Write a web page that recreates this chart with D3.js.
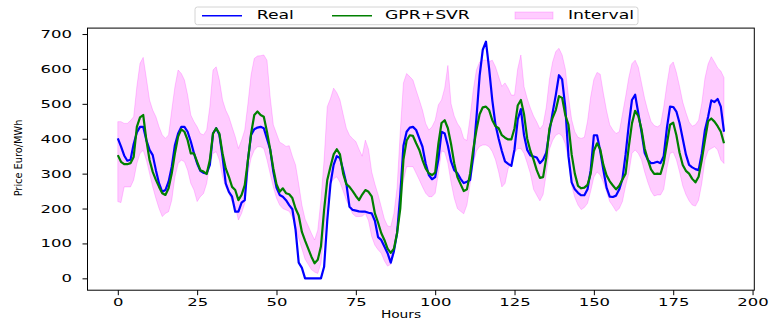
<!DOCTYPE html>
<html>
  <head>
    <meta charset="utf-8">
    <title>Real vs GPR+SVR</title>
    <script type="text/javascript" src="https://cdn.jsdelivr.net/npm/d3@7"></script>
    <style>
      body { margin: 0; background: #fff; }
      text { font-family: "DejaVu Sans", sans-serif; fill: #000; }
    </style>
  </head>
  <body>
    <script type="text/javascript">
     // data, one value per hour (0..191)
     let realPrice = [
       401, 378, 352, 337, 340, 385, 418, 434, 434, 396, 368, 353, 310, 272, 248, 253, 277, 320, 382, 415,
       434, 434, 420, 392, 358, 329, 308, 302, 301, 325, 415, 430, 411, 348, 272, 248, 234, 191, 191, 217,
       224, 339, 411, 427, 432, 434, 430, 400, 370, 305, 260, 239, 234, 224, 210, 198, 140, 45, 30, 0,
       0, 0, 0, 0, 0, 33, 167, 270, 325, 350, 345, 310, 272, 205, 196, 194, 192, 191, 191, 188,
       186, 165, 118, 110, 91, 72, 45, 78, 130, 240, 380, 420, 432, 434, 425, 401, 377, 329, 296, 284,
       290, 340, 420, 415, 380, 335, 310, 301, 285, 273, 277, 282, 350, 460, 580, 655, 678, 600, 510, 440,
       400, 365, 335, 328, 322, 370, 455, 485, 410, 368, 352, 349, 346, 330, 340, 360, 420, 475, 525, 582,
       570, 490, 350, 275, 255, 245, 238, 238, 255, 310, 410, 410, 365, 310, 260, 234, 233, 237, 255, 285,
       355, 440, 511, 526, 473, 420, 360, 340, 330, 331, 334, 330, 350, 430, 492, 491, 478, 445, 400, 355,
       325, 318, 313, 310, 358, 425, 463, 510, 505, 514, 492, 420
     ];
     let predPrice = [
       353, 334, 327, 327, 330, 348, 434, 461, 468, 396, 339, 305, 282, 262, 244, 239, 258, 301, 358, 406,
       427, 420, 396, 358, 358, 334, 310, 306, 299, 339, 415, 430, 415, 358, 315, 291, 262, 253, 224, 239,
       267, 339, 415, 468, 478, 468, 463, 420, 370, 315, 270, 248, 258, 244, 241, 230, 200, 180, 133, 108,
       85, 62, 43, 53, 91, 196, 282, 320, 355, 370, 355, 300, 270, 262, 250, 236, 224, 240, 253, 248,
       235, 186, 160, 130, 110, 85, 73, 85, 130, 200, 340, 395, 410, 408, 387, 368, 339, 315, 301, 296,
       303, 385, 445, 453, 430, 385, 330, 290, 270, 250, 255, 300, 370, 425, 470, 490, 492, 482, 453, 436,
       430, 410, 403, 398, 398, 430, 495, 511, 470, 400, 365, 340, 310, 288, 290, 345, 430, 460, 482, 522,
       517, 468, 440, 355, 300, 265, 258, 260, 268, 300, 365, 387, 370, 325, 295, 278, 266, 255, 265, 283,
       300, 377, 444, 480, 465, 428, 372, 340, 312, 299, 300, 299, 330, 385, 440, 446, 410, 360, 325, 308,
       300, 285, 275, 291, 339, 396, 450, 458, 449, 436, 420, 387
     ];
     let upperBound = [
       449, 449, 444, 444, 452, 463, 549, 616, 633, 573, 511, 482, 463, 434, 411, 401, 411, 482, 549, 597,
       587, 568, 525, 468, 449, 434, 415, 411, 425, 492, 597, 606, 568, 511, 482, 463, 434, 406, 372, 396,
       425, 500, 583, 630, 637, 638, 640, 625, 520, 440, 415, 390, 385, 378, 380, 350, 325, 270, 210, 170,
       150, 129, 110, 138, 224, 339, 492, 515, 545, 532, 511, 470, 430, 410, 400, 392, 370, 350, 396, 370,
       305, 270, 240, 205, 170, 150, 148, 186, 260, 420, 560, 587, 578, 568, 539, 511, 482, 444, 425, 434,
       453, 497, 511, 545, 610, 500, 465, 444, 430, 400, 395, 460, 540, 597, 620, 625, 625, 621, 625, 606,
       578, 550, 560, 545, 525, 525, 600, 640, 549, 515, 488, 465, 448, 428, 440, 490, 570, 620, 650, 659,
       640, 600, 520, 455, 420, 404, 401, 404, 450, 520, 570, 590, 585, 530, 480, 440, 425, 415, 420, 470,
       520, 575, 615, 625, 605, 560, 515, 480, 450, 438, 434, 440, 490, 555, 610, 620, 590, 550, 505, 475,
       448, 436, 440, 453, 501, 573, 614, 635, 620, 603, 594, 575
     ];
     let lowerBound = [
       220, 217, 262, 262, 262, 282, 329, 358, 367, 339, 301, 262, 229, 200, 177, 186, 191, 224, 291, 329,
       339, 334, 310, 272, 253, 220, 234, 243, 272, 329, 358, 363, 339, 291, 262, 243, 220, 205, 167, 186,
       215, 300, 345, 367, 377, 377, 372, 340, 300, 262, 230, 210, 200, 196, 192, 175, 148, 115, 85, 55,
       40, 25, 18, 14, 43, 129, 224, 270, 285, 291, 275, 250, 224, 205, 185, 177, 177, 178, 186, 165,
       120, 95, 82, 72, 50, 35, 40, 70, 140, 215, 280, 320, 320, 320, 301, 282, 262, 244, 234, 234,
       244, 300, 365, 362, 330, 275, 230, 200, 192, 185, 210, 270, 330, 365, 378, 382, 382, 377, 363, 340,
       305, 262, 272, 315, 330, 360, 372, 372, 358, 330, 300, 255, 238, 222, 240, 300, 370, 395, 410, 415,
       408, 385, 340, 265, 232, 210, 197, 203, 215, 250, 290, 305, 296, 275, 248, 220, 207, 192, 200, 220,
       265, 301, 358, 368, 358, 340, 305, 275, 250, 236, 239, 239, 255, 315, 358, 362, 340, 305, 265, 240,
       222, 210, 207, 224, 272, 339, 366, 372, 377, 368, 339, 329
     ];
     let hours = d3.range(realPrice.length);
     let xTicks = [0, 25, 50, 75, 100, 125, 150, 175, 200];
     let yTicks = [0, 100, 200, 300, 400, 500, 600, 700];

     // set the canvas
     let w = 784;
     let h = 328;
     let plot = {left: 87.5, right: 754.3, top: 28.1, bottom: 290.2};

     let svg = d3.select("body").append("svg")
		 .attr("width", w)
		 .attr("height", h)
		 .style("display", "block");

     // scales, with matplotlib's 5% margins
     let xScale = d3.scaleLinear()
		    .domain([-9.55, 200.55])
		    .range([plot.left, plot.right]);
     let yScale = d3.scaleLinear()
		    .domain([-34, 717])
		    .range([plot.bottom, plot.top]);

     // interval band
     let band = d3.area()
		  .x((d) => {return xScale(d);})
		  .y0((d) => {return yScale(lowerBound[d]);})
		  .y1((d) => {return yScale(upperBound[d]);});
     svg.append("path")
	.datum(hours)
	.attr("d", band)
	.attr("fill", "magenta")
	.attr("fill-opacity", 0.2)
	.attr("stroke", "magenta")
	.attr("stroke-opacity", 0.2)
	.attr("stroke-width", 1);

     // the two lines
     function seriesLine(values) {
       return d3.line()
		.x((d) => {return xScale(d);})
		.y((d) => {return yScale(values[d]);})(hours);
     }
     svg.append("path")
	.attr("d", seriesLine(realPrice))
	.attr("fill", "none")
	.attr("stroke", "blue")
	.attr("stroke-width", 2.2)
	.attr("stroke-linejoin", "round");
     svg.append("path")
	.attr("d", seriesLine(predPrice))
	.attr("fill", "none")
	.attr("stroke", "green")
	.attr("stroke-width", 2.2)
	.attr("stroke-linejoin", "round");

     // frame
     svg.append("rect")
	.attr("x", plot.left)
	.attr("y", plot.top)
	.attr("width", plot.right - plot.left)
	.attr("height", plot.bottom - plot.top)
	.attr("fill", "none")
	.attr("stroke", "#000")
	.attr("stroke-width", 1);

     // axes -- labels are stretched sideways like in the picture
     let xAxis = d3.axisBottom(xScale)
		   .tickValues(xTicks)
		   .tickSize(5)
		   .tickSizeOuter(0);
     let gx = svg.append("g")
		 .attr("transform", "translate(0, " + plot.bottom + ")")
		 .call(xAxis);
     gx.select(".domain").remove();
     gx.selectAll(".tick text")
       .attr("y", 0)
       .attr("dy", null)
       .attr("font-size", "9.8px")
       .attr("font-family", "DejaVu Sans")
       .attr("transform", "translate(0, 15.3) scale(1.68, 1)");

     let yAxis = d3.axisLeft(yScale)
		   .tickValues(yTicks)
		   .tickSize(5)
		   .tickSizeOuter(0);
     let gy = svg.append("g")
		 .attr("transform", "translate(" + plot.left + ", 0)")
		 .call(yAxis);
     gy.select(".domain").remove();
     gy.selectAll(".tick text")
       .attr("x", 0)
       .attr("dy", "0.36em")
       .attr("font-size", "9.8px")
       .attr("font-family", "DejaVu Sans")
       .attr("transform", "translate(-15.5, 0) scale(1.68, 1)");
     svg.selectAll(".tick line").attr("stroke", "#000");

     // axis titles
     svg.append("text")
	.attr("transform", "translate(401, 318) scale(1.25, 1)")
	.attr("text-anchor", "middle")
	.attr("font-size", "11px")
	.text("Hours");
     svg.append("text")
	.attr("transform", "translate(21.8, 158) rotate(-90) scale(0.95, 1.1)")
	.attr("text-anchor", "middle")
	.attr("font-size", "10.3px")
	.text("Price Euro/MWh");

     // legend
     let legend = svg.append("g");
     legend.append("rect")
	   .attr("x", 195)
	   .attr("y", 7)
	   .attr("width", 443)
	   .attr("height", 17.7)
	   .attr("rx", 2.5)
	   .attr("fill", "#fff")
	   .attr("fill-opacity", 0.8)
	   .attr("stroke", "#d4d4d4")
	   .attr("stroke-width", 1);
     let legendItems = [
       {label: "Real", kind: "line", color: "blue", x: 202, tx: 256.7},
       {label: "GPR+SVR", kind: "line", color: "green", x: 332, tx: 385},
       {label: "Interval", kind: "patch", color: "magenta", x: 515, tx: 568}
     ];
     legendItems.forEach((d) => {
       if (d.kind === "line") {
	 legend.append("line")
	       .attr("x1", d.x).attr("x2", d.x + 40)
	       .attr("y1", 15.7).attr("y2", 15.7)
	       .attr("stroke", d.color)
	       .attr("stroke-width", 1.5);
       } else {
	 legend.append("rect")
	       .attr("x", d.x).attr("y", 12)
	       .attr("width", 38).attr("height", 7)
	       .attr("fill", d.color).attr("fill-opacity", 0.2)
	       .attr("stroke", d.color).attr("stroke-opacity", 0.2);
       }
       legend.append("text")
	     .attr("transform", "translate(" + d.tx + ", 19.2) scale(1.5, 1)")
	     .attr("font-size", "11.5px")
	     .text(d.label);
     });
    </script>
  </body>
</html>
